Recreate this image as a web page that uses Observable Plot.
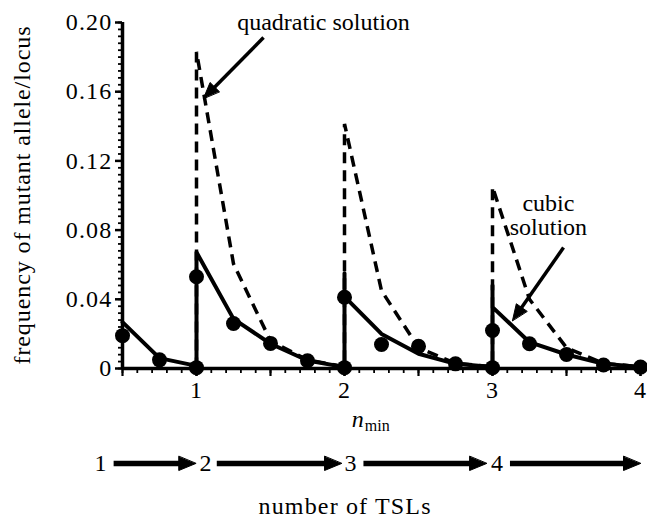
<!DOCTYPE html>
<html><head><meta charset="utf-8">
<script src="https://cdn.jsdelivr.net/npm/d3@7"></script>
<script src="https://cdn.jsdelivr.net/npm/@observablehq/plot@0.6"></script>
<style>
body{margin:0;background:#fff;}
#chart{width:647px;}
#chart svg{display:block;}
#chart g[aria-label="y-axis tick label"] text,
#chart g[aria-label="x-axis tick label"] text { letter-spacing: 1.2px; }
</style></head><body><div id="chart"></div>
<script>
// ---------- data ----------
// simulation results (dots)
const simX = [0.5, 0.75, 1, 1, 1.25, 1.5, 1.75, 2, 2, 2.25, 2.5, 2.75, 3, 3, 3.25, 3.5, 3.75, 4];
const simY = [0.019, 0.005, 0.0005, 0.053, 0.026, 0.0145, 0.0045, 0.0005, 0.0412, 0.0139, 0.0128, 0.0027, 0.0005, 0.022, 0.0143, 0.0081, 0.002, 0.0008];
// cubic solution (solid line)
const cubicX = [0.5, 0.75, 1, 1, 1.25, 1.5, 1.75, 2, 2, 2, 2.25, 2.5, 2.75, 3, 3, 3, 3.25, 3.5, 3.75, 4];
const cubicY = [0.0268, 0.006, 0.0015, 0.0672, 0.0287, 0.0143, 0.0046, 0.0008, 0.055, 0.0415, 0.020, 0.0085, 0.0027, 0.0008, 0.048, 0.0355, 0.0152, 0.0081, 0.0027, 0.0008];
// quadratic solution (dashed line)
const quadX = [1, 1, 1.25, 1.5, 1.75, 2, 2, 2.25, 2.5, 2.75, 3, 3, 3.25, 3.5, 3.75, 4];
const quadY = [0, 0.183, 0.0605, 0.016, 0.005, 0.001, 0.1414, 0.045, 0.012, 0.003, 0.001, 0.105, 0.040, 0.012, 0.003, 0.001];
// axes
const yTicks = [0, 0.04, 0.08, 0.12, 0.16, 0.20];
const yTickLabels = ["0", "0.04", "0.08", "0.12", "0.16", "0.20"];
const xTicks = [1, 2, 3, 4];
const xTickLabels = ["1", "2", "3", "4"];
const yTitle = "frequency of mutant allele/locus";
// annotations
const annoText = ["quadratic solution", "cubic", "solution"];
const annoX = [1.858, 3.378, 3.378];
const annoY = [0.2, 0.0954, 0.0815];
const annoArrowFromX = [1.453, 3.48];
const annoArrowFromY = [0.1913, 0.0699];
const annoArrowToX = [1.047, 3.135];
const annoArrowToY = [0.1561, 0.0277];
// number of TSLs row (positions in n_min units)
const tslLabels = ["1", "2", "3", "4"];
const tslLabelX = [0.352, 1.06, 2.04, 3.03];
const tslArrowFrom = [0.44, 1.137, 2.128, 3.118];
const tslArrowTo = [0.995, 1.98, 2.96, 4.0];
const tslTitle = "number of TSLs";

// ---------- layout ----------
const W = 647, H1 = 410, H2 = 109;
const ML = 122, MR = 7, MT = 22, MB = 42;
const X0 = 0.5, X1 = 4, Y0 = 0, Y1 = 0.2;
const FONT = "Liberation Serif";
const FS = 24;

function arrowParts(ids, fx, fy, tx, ty, kx, ky, len, half) {
  const shaft = [], head = [];
  ids.forEach((id, i) => {
    const dxp = (tx[i] - fx[i]) * kx, dyp = -(ty[i] - fy[i]) * ky;
    const L = Math.hypot(dxp, dyp), ux = dxp / L, uy = dyp / L;
    const bx = -ux * len, by = -uy * len, nx = -uy, ny = ux;
    const toData = (ox, oy) => ({x: tx[i] + ox / kx, y: ty[i] - oy / ky, id});
    shaft.push({x: fx[i], y: fy[i], id}, toData(bx * 0.9, by * 0.9));
    head.push(toData(0, 0), toData(bx + nx * half, by + ny * half), toData(bx - nx * half, by - ny * half));
  });
  return {shaft, head};
}

const sim = simX.map((x, i) => ({x, y: simY[i]}));
const cubic = cubicX.map((x, i) => ({x, y: cubicY[i]}));
const quad = quadX.map((x, i) => ({x, y: quadY[i]}));
const annos = annoText.map((t, i) => ({t, x: annoX[i], y: annoY[i]}));

const kx = (W - ML - MR) / (X1 - X0), ky = (H1 - MT - MB) / (Y1 - Y0);
const aa = arrowParts([0, 1], annoArrowFromX, annoArrowFromY, annoArrowToX, annoArrowToY, kx, ky, 16, 6.5);

const minorY = d3.range(0, 0.2001, 0.004);
const minorX = d3.range(0.5, 4.001, 0.1);
const midX = [0.5, 1, 1.5, 2, 2.5, 3, 3.5, 4];

const main = Plot.plot({
  width: W, height: H1,
  marginLeft: ML, marginRight: MR, marginTop: MT, marginBottom: MB,
  style: {fontFamily: FONT, fontSize: FS + "px", background: "white", color: "black"},
  x: {domain: [X0, X1]},
  y: {domain: [Y0, Y1]},
  marks: [
    Plot.axisY(minorY, {tickSize: 4, strokeWidth: 1.8, tickFormat: () => "", label: null}),
    Plot.axisY(yTicks, {tickSize: 7, strokeWidth: 2.5, tickPadding: 3, fontSize: FS,
      tickFormat: d => yTickLabels[yTicks.indexOf(d)], label: null}),
    Plot.axisX(minorX, {tickSize: 5, strokeWidth: 1.8, tickFormat: () => "", label: null}),
    Plot.axisX(midX, {tickSize: 8, strokeWidth: 2.2, tickFormat: () => "", label: null}),
    Plot.axisX(xTicks, {tickSize: 8, strokeWidth: 2.2, tickPadding: 4, fontSize: FS,
      tickFormat: d => xTickLabels[xTicks.indexOf(d)], label: null}),
    Plot.ruleY([0], {strokeWidth: 3.5}),
    Plot.ruleX([0.5], {strokeWidth: 3.5}),
    Plot.line(quad, {x: "x", y: "y", stroke: "black", strokeWidth: 3.5, strokeDasharray: "11,7", strokeLinecap: "butt", strokeLinejoin: "miter"}),
    Plot.line(cubic, {x: "x", y: "y", stroke: "black", strokeWidth: 4, strokeLinejoin: "round"}),
    Plot.dot(sim, {x: "x", y: "y", r: 7.5, fill: "black", stroke: null}),
    Plot.text(annos, {x: "x", y: "y", text: "t", fontSize: FS, textAnchor: "middle", fill: "black"}),
    Plot.line(aa.shaft, {x: "x", y: "y", z: "id", stroke: "black", strokeWidth: 3.5, strokeLinecap: "butt"}),
    Plot.line(aa.head, {x: "x", y: "y", z: "id", fill: "black", stroke: "black", strokeWidth: 1, curve: "linear-closed"}),
    Plot.text([yTitle], {frameAnchor: "left", dx: -100, rotate: -90, textAnchor: "middle", fontSize: FS, fill: "black"})
  ]
});

// bottom row: n_min label and number of TSLs (y in pixels from top of this strip)
const tslArrowY = 53;
const ta = arrowParts([0, 1, 2, 3], tslArrowFrom, tslArrowFrom.map(() => tslArrowY), tslArrowTo, tslArrowTo.map(() => tslArrowY), kx, -1, 17, 7);
const tslText = tslLabels.map((t, i) => ({t, x: tslLabelX[i], y: tslArrowY}));

const bottom = Plot.plot({
  width: W, height: H2,
  marginLeft: ML, marginRight: MR, marginTop: 0, marginBottom: 0,
  style: {fontFamily: FONT, fontSize: FS + "px", background: "white", color: "black", overflow: "visible"},
  x: {domain: [X0, X1], axis: null},
  y: {domain: [H2, 0], range: [H2, 0], axis: null},
  marks: [
    Plot.text([{t: "n", x: 2.13, y: 9}], {x: "x", y: "y", text: "t", textAnchor: "end", fontStyle: "italic", fontSize: FS, fill: "black"}),
    Plot.text([{t: "min", x: 2.13, y: 9}], {x: "x", y: "y", text: "t", textAnchor: "start", dy: 6, dx: 1, fontSize: 16, fill: "black"}),
    Plot.text(tslText, {x: "x", y: "y", text: "t", fontSize: FS, fill: "black"}),
    Plot.line(ta.shaft, {x: "x", y: "y", z: "id", stroke: "black", strokeWidth: 5.5, strokeLinecap: "butt"}),
    Plot.line(ta.head, {x: "x", y: "y", z: "id", fill: "black", stroke: "black", strokeWidth: 1, curve: "linear-closed"}),
    Plot.text([{t: tslTitle, x: 2.0, y: 96}], {x: "x", y: "y", text: "t", fontSize: FS, fill: "black"})
  ]
});

// stretch the wide serif texts to the reference's lengths
const fit = (svg, str, len) => d3.select(svg).selectAll("text")
  .filter(function () { return this.textContent === str; })
  .attr("textLength", len).attr("lengthAdjust", "spacing");
fit(main, yTitle, 338);
fit(bottom, tslTitle, 172);

document.getElementById("chart").append(main, bottom);
</script>
</body></html>
